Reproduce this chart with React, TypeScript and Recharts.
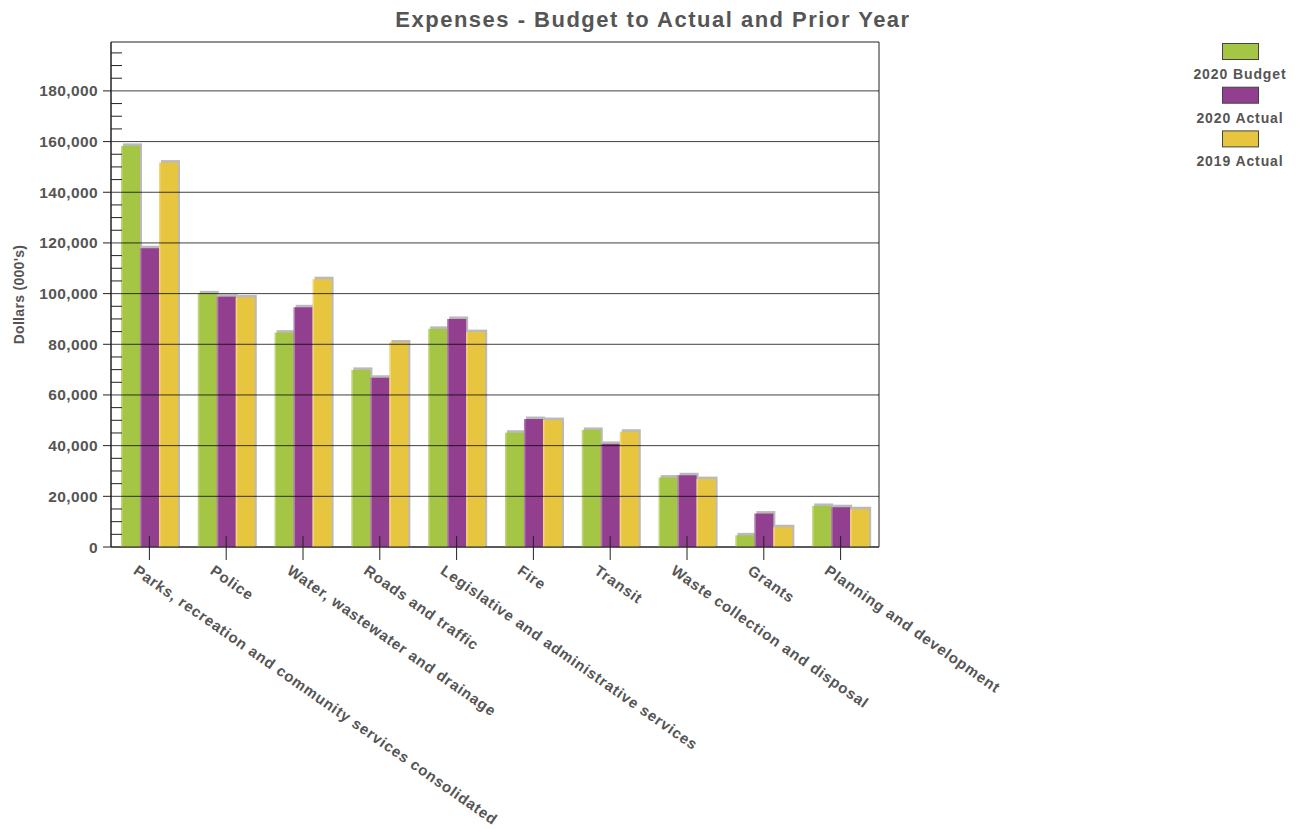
import React from 'react';
import { BarChart, Bar, XAxis, YAxis, ReferenceLine, ReferenceArea } from 'recharts';

// Expenses by department, in thousands of dollars
const categories = [
  'Parks, recreation and community services consolidated',
  'Police',
  'Water, wastewater and drainage',
  'Roads and traffic',
  'Legislative and administrative services',
  'Fire',
  'Transit',
  'Waste collection and disposal',
  'Grants',
  'Planning and development',
];
const budget2020 = [158300, 100100, 84600, 69900, 86100, 45100, 46200, 27400, 4600, 16200];
const actual2020 = [117900, 98800, 94600, 66800, 90000, 50500, 40700, 28300, 13200, 15700];
const actual2019 = [151700, 98500, 105700, 80700, 84800, 50100, 45500, 26800, 7800, 14900];

const majorTicks = [0, 20000, 40000, 60000, 80000, 100000, 120000, 140000, 160000, 180000];
const minorTicks = [
  5000, 10000, 15000, 25000, 30000, 35000, 45000, 50000, 55000, 65000, 70000, 75000,
  85000, 90000, 95000, 105000, 110000, 115000, 125000, 130000, 135000, 145000, 150000,
  155000, 165000, 170000, 175000, 185000, 190000, 195000,
];
const yMax = 199300;

const series = [
  { key: 'budget2020', name: '2020 Budget', color: '#a5c544' },
  { key: 'actual2020', name: '2020 Actual', color: '#923f90' },
  { key: 'actual2019', name: '2019 Actual', color: '#e8c53f' },
];

const chartData = categories.map((name, i) => ({
  name,
  budget2020: budget2020[i],
  actual2020: actual2020[i],
  actual2019: actual2019[i],
}));

const TEXT = '#555555';
const FONT = '"Liberation Sans", Arial, sans-serif';

const ShadowBar = (props: any) => {
  const { x, y, width, height, fill } = props;
  if (!height || height <= 0) return null;
  return (
    <g>
      <rect x={x + 2} y={y - 2.5} width={width} height={height + 2.5} fill="#8c8c8c" fillOpacity={0.6} />
      <rect x={x} y={y} width={width} height={height} fill={fill} />
      <rect x={x} y={y} width={1.5} height={height} fill="#ffffff" fillOpacity={0.3} />
    </g>
  );
};

const XTick = (props: any) => {
  const { x, y, payload } = props;
  const ax = x - 17;
  const ay = y + 26;
  return (
    <g>
      <line x1={x} y1={y - 11} x2={x} y2={y + 13} stroke="#222" />
      <text
        x={ax}
        y={ay}
        transform={`rotate(35, ${ax}, ${ay})`}
        textAnchor="start"
        fill={TEXT}
        fontFamily={FONT}
        fontWeight="bold"
        fontSize={15}
        letterSpacing={0.8}
      >
        {payload.value}
      </text>
    </g>
  );
};

const YTick = (props: any) => {
  const { x, y, payload } = props;
  const isMajor = payload.value % 20000 === 0;
  if (!isMajor) {
    return <line x1={x} y1={y} x2={x + 11} y2={y} stroke="#222" />;
  }
  return (
    <g>
      <line x1={x - 8} y1={y} x2={x} y2={y} stroke="#222" />
      <text
        x={x - 13}
        y={y + 5.5}
        textAnchor="end"
        fill={TEXT}
        fontFamily={FONT}
        fontWeight="bold"
        fontSize={15.5}
        letterSpacing={0.4}
      >
        {payload.value.toLocaleString('en-US')}
      </text>
    </g>
  );
};

const YLabel = () => (
  <text
    x={24}
    y={294.5}
    transform="rotate(-90, 24, 294.5)"
    textAnchor="middle"
    fill={TEXT}
    fontFamily={FONT}
    fontWeight="bold"
    fontSize={14}
    letterSpacing={0.3}
  >
    Dollars (000's)
  </text>
);

const App: React.FC = () => {
  return (
    <div style={{ position: 'absolute', left: 0, top: 0, width: 1305, height: 829, background: '#fff' }}>
      <BarChart
        width={1305}
        height={829}
        data={chartData}
        margin={{ top: 42, right: 426, left: 11, bottom: 2 }}
        barCategoryGap="13%"
        barGap={0}
      >
        <XAxis
          dataKey="name"
          height={280}
          interval={0}
          tickSize={0}
          tickMargin={0}
          tickLine={false}
          axisLine={{ stroke: '#222' }}
          tick={<XTick />}
        />
        <YAxis
          width={100}
          domain={[0, yMax]}
          allowDataOverflow
          ticks={[...majorTicks, ...minorTicks].sort((a, b) => a - b)}
          interval={0}
          tickSize={0}
          tickMargin={0}
          tickLine={false}
          axisLine={{ stroke: '#222' }}
          tick={<YTick />}
          label={{ content: () => <YLabel /> }}
        />
        {series.map(s => (
          <Bar
            key={s.key}
            dataKey={s.key}
            name={s.name}
            fill={s.color}
            shape={<ShadowBar />}
            isAnimationActive={false}
          />
        ))}
        {majorTicks.filter(v => v > 0).map(v => (
          <ReferenceLine key={v} y={v} stroke="#000" strokeOpacity={0.75} />
        ))}
        <ReferenceArea y1={0} y2={yMax} fill="none" stroke="#222" strokeWidth={1} />
      </BarChart>

      {/* Title and legend overlay */}
      <svg
        width={1305}
        height={829}
        style={{ position: 'absolute', left: 0, top: 0, pointerEvents: 'none' }}
      >
        <text
          x={653}
          y={27}
          textAnchor="middle"
          fill={TEXT}
          fontFamily={FONT}
          fontWeight="bold"
          fontSize={22}
          letterSpacing={1.5}
        >
          Expenses - Budget to Actual and Prior Year
        </text>
        {series.map((s, i) => (
          <g key={s.key}>
            <rect x={1222.5} y={43.5 + i * 43.7} width={36} height={16} fill={s.color} stroke="#444" />
            <text
              x={1240}
              y={79 + i * 43.7}
              textAnchor="middle"
              fill={TEXT}
              fontFamily={FONT}
              fontWeight="bold"
              fontSize={14}
              letterSpacing={0.9}
            >
              {s.name}
            </text>
          </g>
        ))}
      </svg>
    </div>
  );
};

export default App;
